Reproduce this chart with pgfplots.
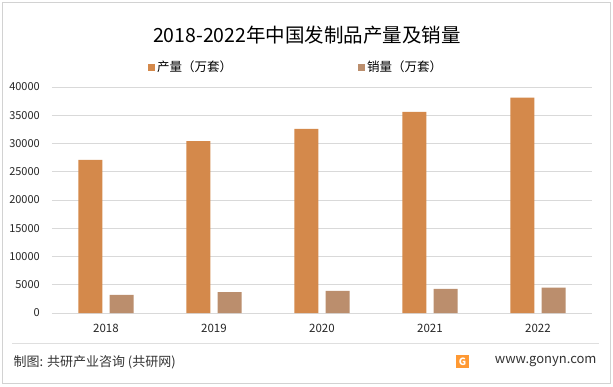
\documentclass[border=0pt]{standalone}
\usepackage{pgfplots}
\pgfplotsset{compat=1.18}
\usepackage{fontspec}
\setmainfont{Noto Sans CJK SC}
\definecolor{prod}{HTML}{D4894B}
\definecolor{sale}{HTML}{BB8E6D}
\definecolor{gridc}{HTML}{D9D9D9}
\begin{document}
\begin{tikzpicture}[x=1pt,y=1pt]
\fill[white] (0,0) rectangle (613,386);
\draw[gray!35] (2.5,2.5) rectangle (610.5,383.5);
\node[font=\fontsize{19.5}{22}\selectfont] at (307,351) {2018-2022年中国发制品产量及销量};
\begin{axis}[
  at={(52pt,73pt)}, anchor=south west,
  scale only axis, width=540pt, height=226pt,
  ymin=0, ymax=40000, ytick={0,5000,...,40000}, scaled y ticks=false,
  xmin=-0.5, xmax=4.5, xtick={0,1,2,3,4}, xticklabels={2018,2019,2020,2021,2022},
  ybar, bar width=0.222,
  ymajorgrids, grid style={gridc, line width=0.8pt},
  axis line style={draw=none},
  major tick length=0pt,
  tick label style={font=\fontsize{11}{13}\selectfont, text=black!85, inner sep=0pt},
  yticklabel style={xshift=-12pt},
  xticklabel style={yshift=-11pt, font=\fontsize{11.5}{13}\selectfont},
  /pgf/number format/.cd, 1000 sep={}, assume math mode=true, /pgfplots/.cd,
  legend columns=2,
  legend style={at={(0.452,1.088)}, anchor=center, draw=none, fill=none,
    font=\fontsize{12.5}{14}\selectfont,
    /tikz/every even column/.append style={column sep=124pt}},
]
\addplot[fill=prod, draw=none, bar shift=-0.144,
  legend image code/.code={\fill[prod] (0pt,-3.5pt) rectangle (7pt,3.5pt);}]
  coordinates {(0,27100) (1,30400) (2,32600) (3,35600) (4,38100)};
\addlegendentry{产量（万套）}
\addplot[fill=sale, draw=none, bar shift=0.144,
  legend image code/.code={\fill[sale] (0pt,-3.5pt) rectangle (7pt,3.5pt);}]
  coordinates {(0,3200) (1,3700) (2,3900) (3,4250) (4,4480)};
\addlegendentry{销量（万套）}
\end{axis}
\draw[gray!25] (12,43) -- (599,43);
\node[anchor=west, font=\fontsize{13}{15}\selectfont, text=black!80] at (10,24) {制图: 共研产业咨询 (共研网)};
\fill[orange!80] (456,18) rectangle (469,31);
\node[text=white, font=\fontsize{10}{10}\selectfont\bfseries] at (462.5,24.5) {G};
\node[anchor=east, font=\fontsize{13}{15}\selectfont, text=black!80] at (600,24) {www.gonyn.com};
\end{tikzpicture}
\end{document}
